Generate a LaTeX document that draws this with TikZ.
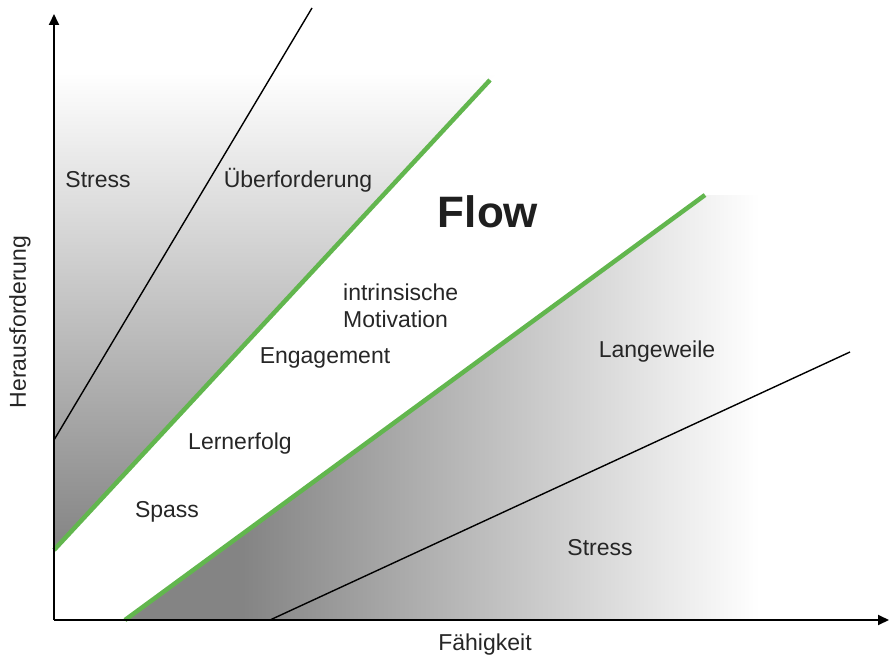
\documentclass[tikz,border=0pt]{standalone}
\usepackage{fontspec}
\setmainfont{Liberation Sans}
\usetikzlibrary{arrows.meta}
\definecolor{flowgreen}{RGB}{98,182,78}
\definecolor{zonegray}{RGB}{132,132,132}
% fades from gray to white; the shaded path spans 25bp to 75bp
\pgfdeclareverticalshading{upfade}{100bp}{color(0bp)=(zonegray); color(26bp)=(zonegray); color(71bp)=(white); color(100bp)=(white)}
\pgfdeclarehorizontalshading{rightfade}{100bp}{color(0bp)=(zonegray); color(34bp)=(zonegray); color(72bp)=(white); color(100bp)=(white)}
\begin{document}
\begin{tikzpicture}[x=1pt,y=-1pt,
  lbl/.style={font=\fontsize{23}{27}\selectfont, text=black!85, inner sep=0pt},
  axis/.style={line width=1.8pt, -{Triangle[length=11pt,width=10pt]}},
  band/.style={flowgreen, line width=4.5pt},
  limit/.style={black, line width=1.4pt}]
\useasboundingbox (0,0) rectangle (891,658);

% reference points of the chart
\coordinate (O) at (54,620);
\coordinate (ytop) at (54,14);
\coordinate (xend) at (889,620);
\coordinate (gUa) at (54,550);
\coordinate (gUb) at (490,80);
\coordinate (gLa) at (125,620);
\coordinate (gLb) at (705,195);
\coordinate (bUa) at (54,440);
\coordinate (bUb) at (312,8);
\coordinate (bLa) at (270,620);
\coordinate (bLb) at (850,352);

% shaded zone above the flow channel
\begin{scope}
  \clip (gUa) -- (560,5) -- (54,5) -- cycle;
  \shade[shading=upfade] (54,30) rectangle (560,560);
\end{scope}

% shaded zone below the flow channel
\begin{scope}
  \clip (gLa) -- (gLb) -- (891,195) -- (891,620) -- cycle;
  \shade[shading=rightfade] (120,190) rectangle (800,622);
\end{scope}

% limit lines
\draw[limit] (bUa) -- (bUb);
\draw[limit] (bLa) -- (bLb);

% borders of the flow channel
\draw[band] (gUa) -- (gUb);
\draw[band] (gLa) -- (gLb);

% axes
\draw[axis] (O) -- (ytop);
\draw[axis] (O) -- (xend);

% zone labels
\node[lbl] (stressA) at (98,180) {Stress};
\node[lbl] (ueber) at (298,180) {Überforderung};
\node[font=\fontsize{44}{48}\selectfont\bfseries, text=black!88, inner sep=0pt] (flow) at (488,212) {Flow};
\node[lbl, anchor=west, align=left, font=\fontsize{23}{27}\selectfont] (intr) at (343,306) {intrinsische\\Motivation};
\node[lbl] (engage) at (325,358) {Engagement};
\node[lbl] (lern) at (240,444) {Lernerfolg};
\node[lbl] (spass) at (167,512) {Spass};
\node[lbl] (lang) at (657,352) {Langeweile};
\node[lbl] (stressB) at (600,548) {Stress};

% axis labels
\node[lbl] (xlabel) at (485,645) {Fähigkeit};
\node[lbl, rotate=90] (ylabel) at (20,322) {Herausforderung};
\end{tikzpicture}
\end{document}
